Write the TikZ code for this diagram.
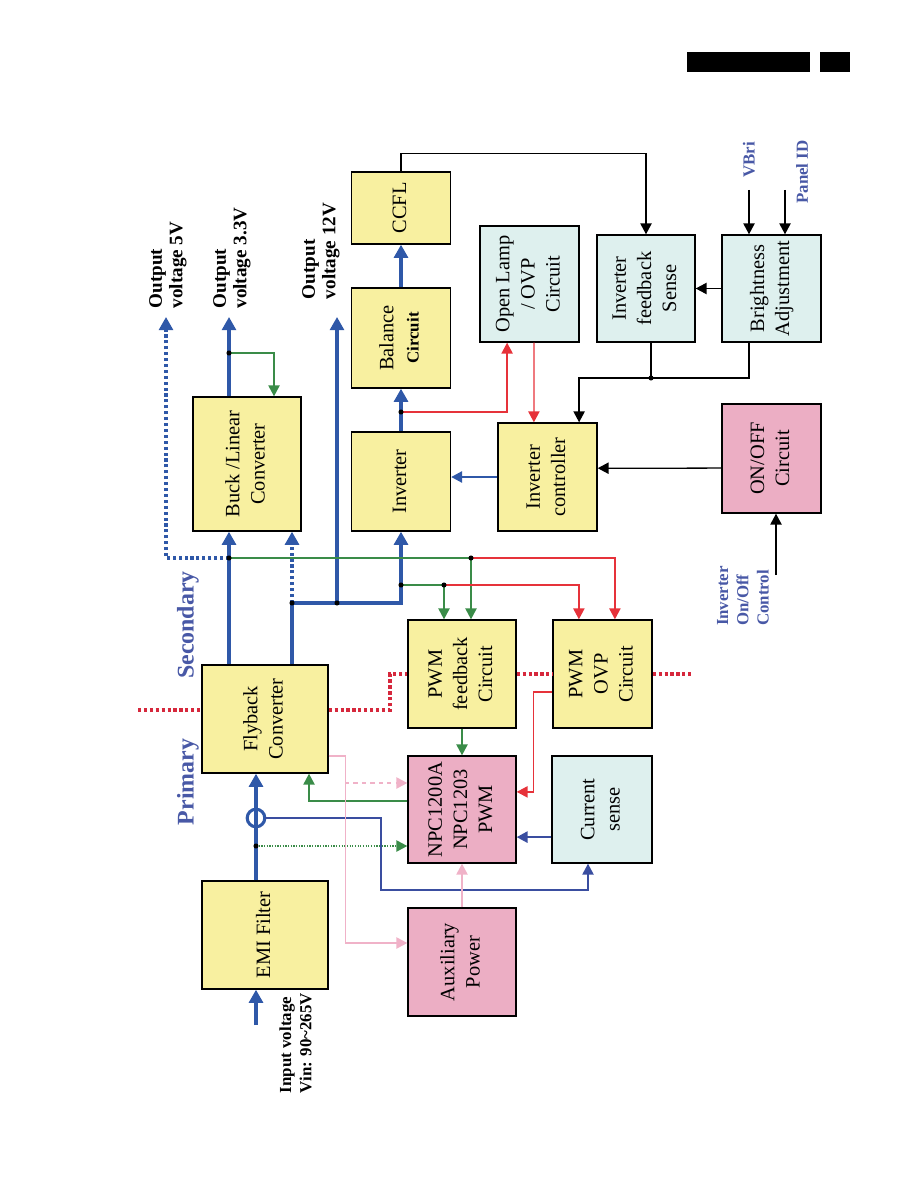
\documentclass[tikz,border=0pt]{standalone}
\usepackage{fontspec}
\setmainfont{Liberation Serif}
\usetikzlibrary{arrows.meta}
\definecolor{boxyellow}{RGB}{248,240,160}
\definecolor{boxpink}{RGB}{236,174,196}
\definecolor{boxcyan}{RGB}{222,240,238}
\definecolor{pwrblue}{RGB}{47,88,168}
\definecolor{sigblue}{RGB}{58,78,160}
\definecolor{fbgreen}{RGB}{58,140,72}
\definecolor{ovpred}{RGB}{230,50,58}
\definecolor{auxpink}{RGB}{240,178,200}
\definecolor{sepred}{RGB}{214,40,60}
\definecolor{labelblue}{RGB}{72,88,166}
\newcommand{\uptext}[1]{\rotatebox{90}{\begin{tabular}{@{}c@{}}#1\end{tabular}}}
\tikzset{
  box/.style={
    rectangle,
    draw=black,
    line width=1pt,
    inner sep=0pt,
    font=\fontsize{14.5}{17.8}\selectfont
  },
  ybox/.style={box, fill=boxyellow},
  pbox/.style={box, fill=boxpink},
  cbox/.style={box, fill=boxcyan},
  pwr/.style={draw=pwrblue, line width=2.2pt, -{Triangle[length=3.3mm,width=3.5mm]}},
  sig/.style={line width=0.9pt, -{Triangle[length=2.7mm,width=2.8mm]}},
  sep/.style={draw=sepred, line width=2.3pt, dash pattern=on 2.3pt off 1.9pt},
  note/.style={rotate=90, align=left, inner sep=0pt, font=\fontsize{12}{14.4}\selectfont\bfseries},
  outnote/.style={note, font=\fontsize{13.6}{14.6}\selectfont\bfseries},
  side/.style={rotate=90, inner sep=0pt, text=labelblue, font=\fontsize{17}{20}\selectfont\bfseries}
}

\begin{document}
\begin{tikzpicture}[x=0.025cm, y=-0.025cm]
    \useasboundingbox (0,0) rectangle (918,1188);
    \fill (687,52) rectangle (810,72);
    \fill (820,52) rectangle (850,72);

    \node[ybox, minimum width=2.475cm, minimum height=1.8cm] (ccfl) at (401,208) {\uptext{CCFL}};
    \node[ybox, minimum width=2.475cm, minimum height=2.5cm] (balance) at (401,338) {\uptext{Balance\\{\fontsize{12}{14}\selectfont\bfseries Circuit}}};
    \node[cbox, minimum width=2.475cm, minimum height=2.9cm] (openlamp) at (529.5,284) {\uptext{Open Lamp\\/ OVP\\Circuit}};
    \node[cbox, minimum width=2.45cm, minimum height=2.675cm] (fbsense) at (646,288.5) {\uptext{Inverter\\feedback\\Sense}};
    \node[cbox, minimum width=2.475cm, minimum height=2.675cm] (bright) at (771.5,288.5) {\uptext{Brightness\\Adjustment}};
    \node[ybox, minimum width=2.7cm, minimum height=3.35cm] (buck) at (247,464) {\uptext{Buck /Linear\\Converter}};
    \node[ybox, minimum width=2.475cm, minimum height=2.475cm] (inverter) at (401,481.5) {\uptext{Inverter}};
    \node[ybox, minimum width=2.475cm, minimum height=2.7cm] (invctrl) at (547.5,477) {\uptext{Inverter\\controller}};
    \node[pbox, minimum width=2.475cm, minimum height=2.725cm] (onoff) at (771.5,458.5) {\uptext{ON/OFF\\Circuit}};
    \node[ybox, minimum width=3.15cm, minimum height=2.7cm] (flyback) at (265,719) {\uptext{Flyback\\Converter}};
    \node[ybox, minimum width=2.7cm, minimum height=2.7cm] (pwmfb) at (462,674) {\uptext{PWM\\feedback\\Circuit}};
    \node[ybox, minimum width=2.475cm, minimum height=2.7cm] (pwmovp) at (602.5,674) {\uptext{PWM\\OVP\\Circuit}};
    \node[pbox, minimum width=2.7cm, minimum height=2.675cm] (npc) at (462,809.5) {\uptext{NPC1200A\\NPC1203\\PWM}};
    \node[cbox, minimum width=2.5cm, minimum height=2.675cm] (cursense) at (602,809.5) {\uptext{Current\\sense}};
    \node[pbox, minimum width=2.7cm, minimum height=2.7cm] (aux) at (462,962) {\uptext{Auxiliary\\Power}};
    \node[ybox, minimum width=3.15cm, minimum height=2.7cm] (emi) at (265,935) {\uptext{EMI Filter}};

    \node[outnote] (out5lbl) at (168,265) {Output\\voltage 5V};
    \node[outnote] (out33lbl) at (232,258) {Output\\voltage 3.3V};
    \node[outnote] (out12lbl) at (321,251) {Output\\voltage 12V};
    \node[note] (vinlbl) at (295.5,1043) {Input voltage\\Vin: 90\textasciitilde265V};
    \node[note, text=labelblue] (vbrilbl) at (749,160) {VBri};
    \node[note, text=labelblue] (panellbl) at (802,172) {Panel ID};
    \node[note, text=labelblue] (onctllbl) at (743,596) {Inverter\\On/Off\\Control};
    \node[side] (primary) at (188,782) {Primary};
    \node[side] (secondary) at (188,625) {Secondary};

    \coordinate (out5) at (166,317);
    \coordinate (out33) at (229,317);
    \coordinate (out12) at (337,317);
    \coordinate (vin) at (256,1025);
    \coordinate (ring) at (256,818);
    \coordinate (ringturn) at (381,890);
    \coordinate (csin) at (588,890);
    \coordinate (jmain) at (256,846);
    \coordinate (j33) at (229,353);
    \coordinate (j5) at (229,558);
    \coordinate (jfly) at (292,603);
    \coordinate (j12) at (337,603);
    \coordinate (jinv) at (401,585);
    \coordinate (jfb) at (444,585);
    \coordinate (jfb2) at (471,558);
    \coordinate (jbal) at (401,412);
    \coordinate (jsense) at (651,378);
    \coordinate (vbri) at (749,190);
    \coordinate (panelid) at (785,190);
    \coordinate (onctl) at (776,575);
    \coordinate (auxbr) at (345,783);
    \coordinate (sepl) at (138,710);
    \coordinate (sepm) at (390,674);
    \coordinate (sepr) at (692,674);

    \draw[sep] (sepl) -- (sepl -| flyback.west);
    \draw[sep] (sepl -| flyback.east) -| (sepm) -- (pwmfb.west);
    \draw[sep] (pwmfb.east) -- (pwmovp.west);
    \draw[sep] (pwmovp.east) -- (sepr);

    \draw[pwr] (vin) -- (vin |- emi.south);
    \draw[pwr] (vin |- emi.north) -- (vin |- flyback.south);
    \draw[pwrblue, line width=2.2pt] (ring) circle[radius=0.22cm];
    \draw[pwr] (out33 |- flyback.north) -- (out33 |- buck.south);
    \draw[pwr] (out33 |- buck.north) -- (out33);
    \draw[pwr, -] (jfly |- flyback.north) -- (jfly);
    \draw[pwr, dotted] (jfly) -- (jfly |- buck.south);
    \draw[pwr] (jfly) -| (inverter.south);
    \draw[pwr] (j12) -- (out12);
    \draw[pwr] (inverter.north) -- (balance.south);
    \draw[pwr] (balance.north) -- (ccfl.south);
    \draw[pwr, dotted] (j5) -| (out5);
    \draw[sig, pwrblue, line width=1.2pt] (invctrl.west) -- (invctrl.west -| inverter.east);

    \draw[sig, sigblue] ([xshift=0.22cm]ring) -| (ringturn) -- (csin) -- (csin |- cursense.south);
    \draw[sig, sigblue, line width=1.4pt] ([yshift=-0.69cm]cursense.west) -- ([yshift=-0.69cm]npc.east);

    \draw[sig, fbgreen] ([yshift=0.21cm]npc.west) -| ([xshift=1.1cm]flyback.south);
    \draw[sig, fbgreen, densely dotted] (jmain) -- (jmain -| npc.west);
    \draw[sig, fbgreen] (pwmfb.south) -- (npc.north);
    \draw[sig, fbgreen] (j33) -| ([xshift=0.675cm]buck.north);
    \draw[sig, fbgreen] (j5) -- (jfb2) -- (jfb2 |- pwmfb.north);
    \draw[sig, fbgreen] (jinv) -- (jfb) -- (jfb |- pwmfb.north);

    \draw[sig, ovpred] (jfb2) -| ([xshift=0.31cm]pwmovp.north);
    \draw[sig, ovpred] (jfb) -| ([xshift=-0.59cm]pwmovp.north);
    \draw[sig, ovpred] ([yshift=-0.45cm]pwmovp.west) -- ++(-19,0) |- ([yshift=0.44cm]npc.east);
    \draw[sig, ovpred] (jbal) -| ([xshift=-0.56cm]openlamp.south);
    \draw[sig, ovpred] ([xshift=0.11cm]openlamp.south) -- ([xshift=-0.34cm]invctrl.north);

    \draw[sig, auxpink] ([yshift=-0.925cm]flyback.east) -- ++(17,0) |- ([yshift=0.475cm]aux.west);
    \draw[sig, auxpink, dashed] (auxbr) -- (auxbr -| npc.west);
    \draw[sig, auxpink] (aux.north) -- (npc.south);

    \draw[sig] (ccfl.north) -- ++(0,-18) -| (fbsense.north);
    \draw[sig] (vbri) -- (vbri |- bright.north);
    \draw[sig] (panelid) -- (panelid |- bright.north);
    \draw[sig] (bright.west) -- (fbsense.east);
    \draw[sig, -] (jsense |- fbsense.south) -- (jsense);
    \draw[sig] (vbri |- bright.south) |- (jsense) -| ([xshift=0.79cm]invctrl.north);
    \draw[sig] ([yshift=-0.24cm]onoff.west) -- ([yshift=0.22cm]invctrl.east);
    \draw[sig] (onctl) -- (onctl |- onoff.south);

    \foreach \j in {j33, j5, jfly, j12, jinv, jfb, jfb2, jbal, jsense, jmain}
      \fill (\j) circle[radius=1.8pt];
  \end{tikzpicture}
\end{document}
